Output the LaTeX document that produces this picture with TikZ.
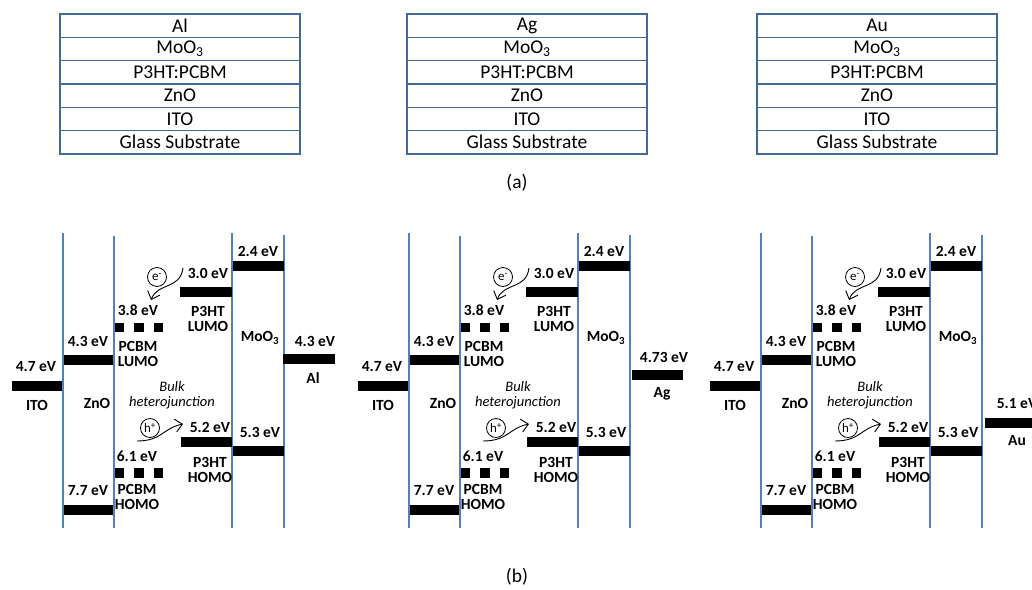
\documentclass[tikz,border=0pt]{standalone}
\usepackage{fontspec}
\setmainfont{Carlito}
\usetikzlibrary{arrows.meta}
\definecolor{lineblue}{HTML}{4F81BD}
\definecolor{boxblue}{HTML}{46699C}
\tikzset{
  layer/.style={draw=boxblue, line width=1.3pt, minimum width=240pt, minimum height=23.3pt, inner sep=0pt, font=\fontsize{19.5}{19.5}\selectfont},
  vline/.style={draw=lineblue, line width=1.6pt},
  bar/.style={fill=black, inner sep=0pt, minimum height=10pt},
  sq/.style={fill=black, inner sep=0pt, minimum width=9.5pt, minimum height=9.5pt},
  ev/.style={font=\bfseries\fontsize{15.5}{15}\selectfont, inner sep=0pt, align=center},
  bhj/.style={font=\itshape\fontsize{14.5}{15}\selectfont, inner sep=0pt, align=center},
  charge/.style={draw, circle, minimum size=19pt, inner sep=0pt, line width=0.8pt, font=\fontsize{13}{13}\selectfont},
  flow/.style={line width=0.9pt, -{Straight Barb[length=7pt,width=13pt,line width=0.9pt]}},
  captext/.style={font=\fontsize{19.5}{19.5}\selectfont, inner sep=0pt}
}
\begin{document}
\begin{tikzpicture}[x=1pt,y=-1pt]
\useasboundingbox (0,0) rectangle (1032,589);
% (a) layer stacks
\foreach \p/\d/\metal in {1/0/Al, 2/347/Ag, 3/697/Au}{
  \begin{scope}[xshift=\d pt]
    \node[layer] (m\p) at (180,25.7) {\metal};
    \node[layer] (o\p) at (180,49) {MoO\textsubscript{3}};
    \node[layer] (a\p) at (180,72.3) {P3HT:PCBM};
    \node[layer] (z\p) at (180,95.6) {ZnO};
    \node[layer] (i\p) at (180,118.9) {ITO};
    \node[layer] (g\p) at (180,142.2) {Glass Substrate};
  \end{scope}
}
\node[captext] (capa) at (517,183) {(a)};
% (b) energy diagrams
\foreach \p/\d in {1/0, 2/346, 3/698}{
  \begin{scope}[xshift=\d pt]
    \coordinate (ta\p) at (63,233);  \coordinate (ba\p) at (63,528);
    \coordinate (tb\p) at (114,236); \coordinate (bb\p) at (114,528);
    \coordinate (tc\p) at (232,233); \coordinate (bc\p) at (232,528);
    \coordinate (td\p) at (284,235); \coordinate (bd\p) at (284,528);
    \draw[vline] (ta\p) -- (ba\p);
    \draw[vline] (tb\p) -- (bb\p);
    \draw[vline] (tc\p) -- (bc\p);
    \draw[vline] (td\p) -- (bd\p);
    % bars
    \node[bar, minimum width=50pt] (ito\p) at (37,386) {};
    \node[bar, minimum width=49pt] (znl\p) at (88.5,360) {};
    \node[bar, minimum width=49pt] (znh\p) at (88.5,509.5) {};
    \node[bar, minimum width=52pt] (p3l\p) at (206,292) {};
    \node[bar, minimum width=51pt] (p3h\p) at (206.5,442) {};
    \node[bar, minimum width=51pt] (mol\p) at (258.5,265.5) {};
    \node[bar, minimum width=51pt] (moh\p) at (258.5,451) {};
    \node[sq] (pl1\p) at (119.5,327.5) {};
    \node[sq] (pl2\p) at (139,327.5) {};
    \node[sq] (pl3\p) at (158.5,327.5) {};
    \node[sq] (ph1\p) at (119.5,473) {};
    \node[sq] (ph2\p) at (139,473) {};
    \node[sq] (ph3\p) at (158.5,473) {};
    % labels
    \node[ev] (itoE\p) at (36,367) {4.7 eV};
    \node[ev] (itoT\p) at (37,405) {ITO};
    \node[ev] (znE\p) at (88,341) {4.3 eV};
    \node[ev] (znT\p) at (97,403) {ZnO};
    \node[ev] (znH\p) at (88,491) {7.7 eV};
    \node[ev] (pcE\p) at (138,310) {3.8 eV};
    \node[ev] (pcT\p) at (138,353.5) {PCBM\\LUMO};
    \node[ev] (pcH\p) at (137,456) {6.1 eV};
    \node[ev] (pcU\p) at (137,496.5) {PCBM\\HOMO};
    \node[ev] (p3E\p) at (208,273) {3.0 eV};
    \node[ev] (p3T\p) at (208,318.5) {P3HT\\LUMO};
    \node[ev] (p3H\p) at (210,427) {5.2 eV};
    \node[ev] (p3U\p) at (210,469.5) {P3HT\\HOMO};
    \node[ev] (moE\p) at (258,251) {2.4 eV};
    \node[ev] (moT\p) at (260,338) {MoO\textsubscript{3}};
    \node[ev] (moH\p) at (260,432) {5.3 eV};
    \node[bhj] (bhj\p) at (172,395.5) {Bulk\\heterojunction};
    % charges
    \node[charge] (el\p) at (157,277) {e\textsuperscript{-}};
    \coordinate (es\p) at (183,268);
    \coordinate (ee\p) at (151,300);
    \draw[flow] (es\p) .. controls (180,290) and (158,282) .. (ee\p);
    \node[charge] (ho\p) at (150,428) {h\textsuperscript{+}};
    \coordinate (hs\p) at (137,441);
    \coordinate (he\p) at (183,424);
    \draw[flow] (hs\p) .. controls (162,441) and (163,428) .. (he\p);
  \end{scope}
}
% metals
\node[bar, minimum width=52pt] (al) at (309,359) {};
\node[ev] (alE) at (315,341) {4.3 eV};
\node[ev] (alT) at (313,378) {Al};
\node[bar, minimum width=51pt] (ag) at (657.5,375) {};
\node[ev] (agE) at (664,357) {4.73 eV};
\node[ev] (agT) at (662,394) {Ag};
\node[bar, minimum width=52pt] (au) at (1011,422.5) {};
\node[ev] (auE) at (1017,404) {5.1 eV};
\node[ev] (auT) at (1017,441) {Au};
\node[captext] (capb) at (517,577) {(b)};
\end{tikzpicture}
\end{document}
